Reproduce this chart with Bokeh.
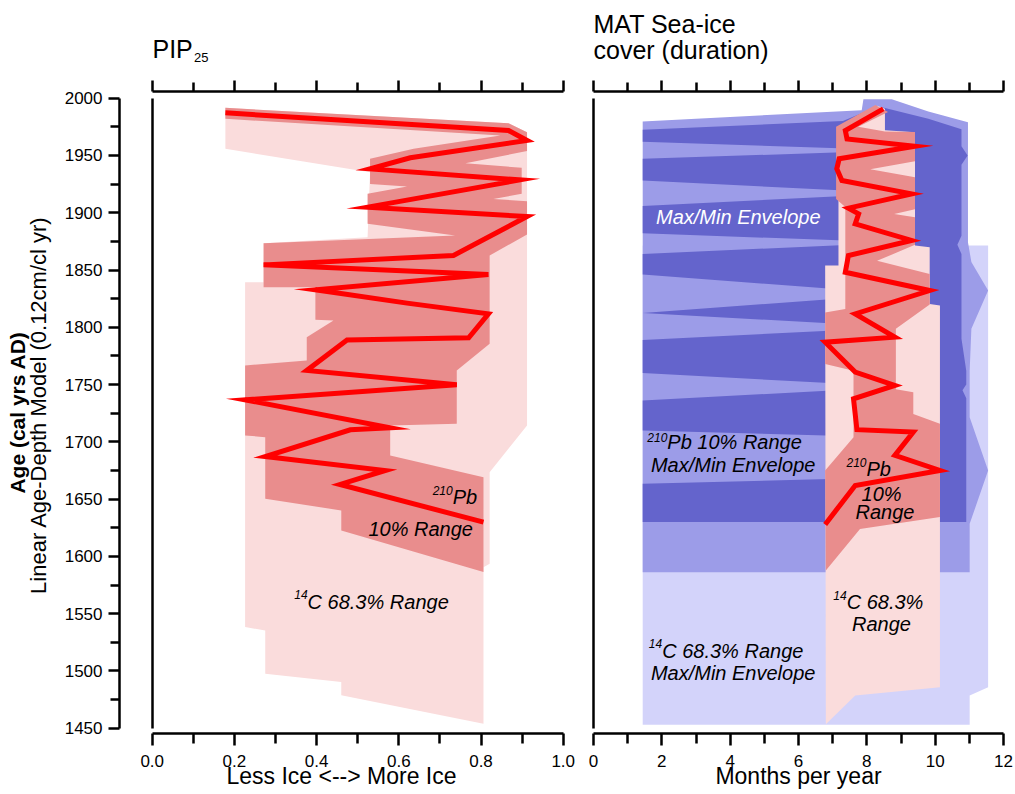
import numpy as np
from bokeh.plotting import figure
from bokeh.models import Range1d, LinearAxis, FixedTicker, Label, PrintfTickFormatter
from bokeh.layouts import row, column
from bokeh.embed import file_html
from bokeh.resources import INLINE

FONT = "Liberation Sans"

# ---------------- PIP25 panel data ----------------
pip_years = [1987.2, 1971.8, 1963.1, 1948.0, 1938.3, 1928.7, 1904.9, 1896.7,
             1862.7, 1854.5, 1846.1, 1832.7, 1821.1, 1811.8, 1790.8, 1789.0,
             1762.3, 1749.9, 1736.7, 1712.3, 1710.5, 1687.2, 1675.0, 1662.8, 1629.9]
pip_values = [0.178, 0.867, 0.912, 0.628, 0.530, 0.895, 0.524, 0.912,
              0.733, 0.271, 0.818, 0.397, 0.620, 0.818, 0.770, 0.474,
              0.376, 0.741, 0.226, 0.579, 0.482, 0.275, 0.567, 0.457, 0.806]

# 210Pb 10% range (outline)
pip_pb_x = [0.178, 0.867, 0.912, 0.912, 0.762, 0.899, 0.899, 0.830, 0.912, 0.912,
            0.821, 0.821, 0.741, 0.741, 0.579, 0.579, 0.806, 0.806, 0.460, 0.460,
            0.275, 0.275, 0.226, 0.226, 0.376, 0.376, 0.441, 0.397, 0.397, 0.271,
            0.271, 0.737, 0.524, 0.524, 0.620, 0.530, 0.530, 0.636, 0.847, 0.178]
pip_pb_y = [1991.6, 1978.2, 1970.3, 1953.8, 1943.3, 1939.2, 1916.5, 1912.1, 1910.1, 1881.0,
            1862.7, 1785.6, 1762.3, 1715.7, 1714.3, 1688.1, 1669.2, 1586.3, 1622.6, 1640.1,
            1650.3, 1704.1, 1705.6, 1766.7, 1771.0, 1791.4, 1805.9, 1806.5, 1835.0, 1835.0,
            1873.4, 1880.1, 1890.3, 1916.5, 1922.9, 1925.2, 1947.1, 1955.8, 1967.4, 1982.0]

# 14C 68.3% range (outline)
pip_c14_x = [0.178, 0.867, 0.912, 0.912, 0.821, 0.821, 0.806, 0.806, 0.460, 0.460,
             0.275, 0.275, 0.226, 0.226, 0.271, 0.271, 0.524, 0.530, 0.178]
pip_c14_y = [1991.6, 1978.2, 1970.3, 1714.3, 1673.5, 1593.5, 1590.6, 1454.0, 1478.7, 1490.3,
             1497.6, 1535.4, 1538.3, 1839.4, 1839.4, 1873.4, 1878.7, 1935.4, 1955.8]

# ---------------- MAT sea-ice panel data ----------------
mat_years = [1990.7, 1971.8, 1964.5, 1958.1, 1947.1, 1938.3, 1928.1, 1916.5, 1904.0,
             1899.0, 1890.3, 1875.8, 1862.6, 1848.1, 1832.1, 1811.7, 1791.4, 1787.0,
             1760.9, 1749.2, 1737.6, 1710.6, 1708.5, 1688.2, 1675.0, 1661.9, 1627.9]
mat_months = [8.48, 7.37, 7.42, 9.41, 7.19, 7.12, 7.27, 9.31, 7.46,
              7.76, 7.66, 9.31, 7.46, 7.37, 9.84, 7.66, 8.82, 6.78,
              7.66, 8.82, 7.61, 7.71, 9.36, 8.82, 10.14, 7.66, 6.78]

mat_pb_x = [8.25, 8.62, 7.75, 8.53, 9.41, 9.41, 8.10, 9.41, 9.41, 8.80, 9.41, 9.41,
            8.30, 9.84, 9.84, 8.85, 8.85, 9.36, 9.36, 10.14, 10.14, 7.80, 6.80, 6.78,
            7.61, 7.61, 6.78, 6.78, 7.37, 7.37, 7.10, 7.10]
mat_pb_y = [1994.0, 1988.0, 1975.0, 1971.0, 1970.5, 1945.0, 1938.0, 1931.0, 1903.0, 1899.0,
            1896.0, 1872.0, 1858.0, 1846.6, 1820.0, 1798.7, 1746.0, 1743.4, 1724.4, 1715.7,
            1634.3, 1624.0, 1587.7, 1675.0, 1704.1, 1762.0, 1768.0, 1813.0, 1816.0, 1905.0,
            1912.0, 1975.0]

mat_c14_x = [8.30, 8.53, 8.53, 9.41, 9.41, 9.84, 9.84, 10.14, 10.14, 7.66, 6.80, 6.78, 7.17, 7.17]
mat_c14_y = [1993.5, 1990.7, 1972.0, 1970.3, 1871.4, 1869.9, 1820.4, 1819.0, 1485.8,
             1478.6, 1453.5, 1854.0, 1854.0, 1972.0]

# Max/Min envelopes
env_c14_x = [1.44, 11.01, 11.01, 11.55, 11.55, 1.44]
env_c14_y = [1453.0, 1453.0, 1478.5, 1485.8, 1871.4, 1871.4]

env_pb_x = [1.44, 7.85, 7.90, 8.73, 9.80, 10.96, 10.96, 11.06, 11.55, 11.06,
            11.01, 11.01, 11.55, 11.01, 11.01, 1.44]
env_pb_y = [1979.7, 1989.5, 1999.0, 1999.0, 1988.4, 1979.1, 1874.3, 1856.9, 1832.1, 1798.7,
            1762.0, 1721.5, 1675.0, 1628.4, 1586.2, 1586.2]

env_x = [1.44, 7.30, 8.30, 8.53, 9.80, 10.77, 10.77, 10.95, 10.77, 10.77,
         10.65, 10.77, 10.77, 10.91, 10.91, 10.80, 10.91, 10.91, 1.44, 1.44,
         10.00, 10.00, 1.44, 1.44, 9.00, 1.44, 1.44, 9.00, 1.44, 9.00,
         1.44, 1.44, 9.00, 1.44, 1.44, 9.00, 1.44, 1.44, 9.00, 1.44]
env_y = [1972.5, 1980.0, 1992.5, 1991.5, 1982.0, 1973.0, 1958.0, 1950.0, 1942.0, 1880.0,
         1872.0, 1864.0, 1790.0, 1762.0, 1750.0, 1745.0, 1738.0, 1630.0, 1630.0, 1663.4,
         1670.0, 1703.0, 1710.0, 1736.1, 1748.0, 1760.0, 1789.0, 1800.0, 1812.5, 1829.0,
         1846.0, 1864.0, 1874.0, 1882.0, 1906.0, 1917.0, 1928.1, 1947.1, 1954.5, 1962.0]

# ---------------- ticks ----------------
age_ticks = [1450, 1500, 1550, 1600, 1650, 1700, 1750, 1800, 1850, 1900, 1950, 2000]
age_minor = [1475, 1525, 1575, 1625, 1675, 1725, 1775, 1825, 1875, 1925, 1975]
pip_ticks = [0.0, 0.2, 0.4, 0.6, 0.8, 1.0]
pip_minor = [0.1, 0.3, 0.5, 0.7, 0.9]
mat_ticks = [0, 2, 4, 6, 8, 10, 12]
mat_minor = [1, 3, 5, 7, 9, 11]

# ---------------- colours ----------------
RED = "#ff0000"
PB_RED = "#e98d8d"
C14_PINK = "#fadcdc"
BLUE_DARK = "#6464cc"
BLUE_MID = "#9c9ce8"
BLUE_LIGHT = "#d3d3fa"

TOP_H = 70          # strip holding the panel titles
H = 792 - TOP_H     # height of the plotting row
FRAME_BOTTOM = 733  # page y of the plot frames' bottom edge
PX_PER_YEAR = 1.1455
BASE_FIX = 0.33     # baseline correction (em) for the SVG text placement
Y0, Y1 = 1445.4, 2005.85


def make_fig(width, xr, left, right):
    p = figure(width=width, height=H, x_range=xr, y_range=Range1d(Y0, Y1),
               title=None, output_backend="svg", toolbar_location=None,
               x_axis_location=None, y_axis_location=None,
               min_border_left=left, min_border_right=right,
               min_border_top=91 - TOP_H, min_border_bottom=59)
    p.grid.visible = False
    p.outline_line_color = None
    p.background_fill_color = "white"
    p.border_fill_color = "white"
    return p


def blank_fig(width, height, top=0, bottom=0):
    f = figure(width=width, height=height, x_range=Range1d(0, 1), y_range=Range1d(0, 1),
               title=None, output_backend="svg", toolbar_location=None,
               x_axis_location=None, y_axis_location=None,
               min_border_left=0, min_border_right=0, min_border_top=top,
               min_border_bottom=bottom)
    f.grid.visible = False
    f.outline_line_color = None
    f.background_fill_color = "white"
    f.border_fill_color = "white"
    return f


def make_axis(bounds, ticks, minor, out, minor_out, labels, fmt=None, standoff=5):
    ax = LinearAxis(bounds=bounds, ticker=FixedTicker(ticks=ticks, minor_ticks=minor))
    ax.axis_line_width = 2.5
    ax.axis_line_color = "black"
    ax.major_tick_line_width = 2.5
    ax.minor_tick_line_width = 2.5
    ax.major_tick_line_color = "black"
    ax.minor_tick_line_color = "black"
    ax.major_tick_in = 0
    ax.minor_tick_in = 0
    ax.major_tick_out = out
    ax.minor_tick_out = minor_out
    ax.major_label_standoff = standoff
    ax.major_label_text_font = FONT
    if labels:
        ax.major_label_text_font_size = "17px"
        ax.major_label_text_color = "black"
    else:
        ax.major_label_text_font_size = "1px"
        ax.major_label_text_color = None
        ax.major_label_standoff = 0
    if fmt is not None:
        ax.formatter = fmt
    return ax


def label(p, x, y, text, size=20, style="italic", color="black", align="left"):
    y = y + BASE_FIX * size / PX_PER_YEAR
    p.add_layout(Label(x=x, y=y, text=text, text_font=FONT, text_font_size=f"{size}px",
                       text_font_style=style, text_color=color, text_align=align,
                       text_baseline="alphabetic"))


def slabel(f, x, y, text, size, style="normal", align="left", baseline="alphabetic", angle=0.0):
    if baseline == "alphabetic":
        y = y + BASE_FIX * size
    f.add_layout(Label(x=x, y=y, x_units="screen", y_units="screen", text=text,
                       text_font=FONT, text_font_size=f"{size}px", text_font_style=style,
                       text_color="black", text_align=align, text_baseline=baseline,
                       angle=angle))


# ================= title strip =================
top = blank_fig(1013, TOP_H)
slabel(top, 152, TOP_H - 56.7, "PIP", 25)
slabel(top, 193.5, TOP_H - 61.7, "25", 13)
slabel(top, 593, TOP_H - 31.7, "MAT Sea-ice", 25)
slabel(top, 593, TOP_H - 57.5, "cover (duration)", 25)

# ================= y-axis title strip =================
YT_W = 59
ytit = blank_fig(YT_W, H, top=91 - TOP_H, bottom=59)
slabel(ytit, 17, FRAME_BOTTOM - 412, "Age (cal yrs AD)", 21, style="bold", align="center",
       baseline="middle", angle=np.pi / 2)
slabel(ytit, 38, FRAME_BOTTOM - 404.5, "Linear Age-Depth Model (0.12cm/cl yr)", 22,
       align="center", baseline="middle", angle=np.pi / 2)

# ================= left panel: PIP25 =================
p1 = make_fig(583 - YT_W, Range1d(-0.0796, 1.0007), 119 - YT_W, 20)
p1.patch(pip_c14_x, pip_c14_y, fill_color=C14_PINK, line_color=None)
p1.patch(pip_pb_x, pip_pb_y, fill_color=PB_RED, line_color=None)
p1.line(pip_values, pip_years, line_color=RED, line_width=5, line_join="miter")

yax = make_axis((1450, 2000), age_ticks, age_minor, 11, 9, True, standoff=6)
p1.add_layout(yax, "left")
frame1 = make_axis((1450, 2000), [], [], 0, 0, False)
frame1.fixed_location = 0
p1.add_layout(frame1, "right")
p1.add_layout(make_axis((0, 1), pip_ticks, pip_minor, 11, 9, False), "above")
bx1 = make_axis((0, 1), pip_ticks, pip_minor, 12, 10, True,
                fmt=PrintfTickFormatter(format="%.1f"), standoff=9)
bx1.axis_label = "Less Ice <--> More Ice"
p1.add_layout(bx1, "below")

label(p1, 0.731, 1654.0, "210", size=12, align="right")
label(p1, 0.731, 1646.2, "Pb")
label(p1, 0.526, 1618.2, "10% Range")
label(p1, 0.378, 1563.0, "14", size=12, align="right")
label(p1, 0.378, 1554.5, "C 68.3% Range")

# ================= right panel: MAT sea-ice =================
p2 = make_fig(430, Range1d(0, 12), 10, 10)
p2.patch(env_c14_x, env_c14_y, fill_color=BLUE_LIGHT, line_color=None)
p2.patch(env_pb_x, env_pb_y, fill_color=BLUE_MID, line_color=None)
p2.patch(env_x, env_y, fill_color=BLUE_DARK, line_color=None)
p2.patch(mat_c14_x, mat_c14_y, fill_color=C14_PINK, line_color=None)
p2.patch(mat_pb_x, mat_pb_y, fill_color=PB_RED, line_color=None)
p2.line(mat_months, mat_years, line_color=RED, line_width=5, line_join="miter")

p2.add_layout(make_axis((1450, 2000), [], [], 0, 0, False), "left")
p2.add_layout(make_axis((0, 12), mat_ticks, mat_minor, 11, 9, False), "above")
bx2 = make_axis((0, 12), mat_ticks, mat_minor, 12, 10, True, standoff=9)
bx2.axis_label = "Months per year"
p2.add_layout(bx2, "below")
for bx in (bx1, bx2):
    bx.axis_label_text_font = FONT
    bx.axis_label_text_font_size = "23px"
    bx.axis_label_text_font_style = "normal"
    bx.axis_label_text_color = "black"
    bx.axis_label_standoff = -7

label(p2, 1.83, 1890.4, "Max/Min Envelope", color="white")
label(p2, 2.16, 1700.3, "210", size=12, align="right")
label(p2, 2.16, 1693.9, "Pb 10% Range")
label(p2, 1.68, 1674.4, "Max/Min Envelope")
label(p2, 7.99, 1678.5, "210", size=12, align="right")
label(p2, 7.99, 1670.6, "Pb")
label(p2, 8.43, 1648.8, "10%", align="center")
label(p2, 8.53, 1632.8, "Range", align="center")
label(p2, 7.41, 1562.4, "14", size=12, align="right")
label(p2, 7.41, 1554.3, "C 68.3%")
label(p2, 8.43, 1535.3, "Range", align="center")
label(p2, 2.01, 1520.5, "14", size=12, align="right")
label(p2, 2.01, 1512.0, "C 68.3% Range")
label(p2, 1.68, 1492.3, "Max/Min Envelope")

layout = column(top, row(ytit, p1, p2))
open("out.html", "w").write(file_html(layout, INLINE, title="PIP25 and MAT sea-ice"))
